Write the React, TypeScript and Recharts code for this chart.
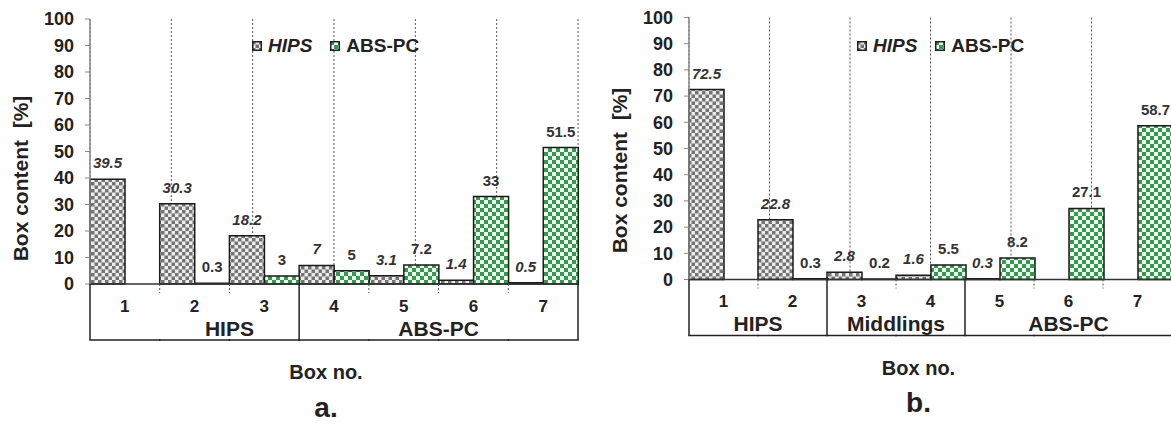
import React from 'react';
import { BarChart, Bar, XAxis, YAxis, CartesianGrid, Legend, LabelList } from 'recharts';

const FONT = "'Liberation Sans', Arial, sans-serif";

// box numbers (categories)
const boxes = ['1', '2', '3', '4', '5', '6', '7'];

// panel a.
const hipsA = [39.5, 30.3, 18.2, 7, 3.1, 1.4, 0.5];
const absA = [0, 0.3, 3, 5, 7.2, 33, 51.5];

// panel b.
const hipsB = [72.5, 22.8, 2.8, 1.6, 0.3, 0, 0];
const absB = [0, 0.3, 0.2, 5.5, 8.2, 27.1, 58.7];

const yTicks = [0, 10, 20, 30, 40, 50, 60, 70, 80, 90, 100];
const gridTicks = [1, 2, 3, 4, 5, 6];
const seriesOrder = ['hips', 'abs'];

// product groups under the axis (first/last box index, label anchor in box units)
const groupsA = [
  { name: 'HIPS', first: 0, last: 2, labelAt: 2 },
  { name: 'ABS-PC', first: 3, last: 6, labelAt: 5 },
];
const groupsB = [
  { name: 'HIPS', first: 0, last: 1, labelAt: 1 },
  { name: 'Middlings', first: 2, last: 3, labelAt: 3 },
  { name: 'ABS-PC', first: 4, last: 6, labelAt: 5.5 },
];

type Group = { name: string; first: number; last: number; labelAt: number };

const BOX_H = 56;

const makeTick = (groups: Group[], band: number, count: number) => (props: any) => {
  const { x, y, payload, index } = props;
  const left = x - band / 2;
  const right = x + band / 2;
  const g = groups.find((gr) => gr.first === index);
  return (
    <g>
      <text x={x} y={y + 22} textAnchor="middle" dominantBaseline="central"
        fontSize={17} fontWeight={700} fill="#222" fontFamily={FONT}>
        {payload.value}
      </text>
      <line x1={left} x2={right} y1={y + BOX_H} y2={y + BOX_H} stroke="#222" strokeWidth={1.5} strokeLinecap="square" />
      {g ? (
        <line x1={left} x2={left} y1={y} y2={y + BOX_H} stroke="#222" strokeWidth={1.5} />
      ) : (
        <line x1={left} x2={left} y1={y} y2={y + 9} stroke="#555" strokeDasharray="2 2" />
      )}
      {index === count - 1 && (
        <line x1={right} x2={right} y1={y} y2={y + BOX_H} stroke="#222" strokeWidth={1.5} />
      )}
      {g && (
        <text x={left + (g.labelAt - g.first) * band} y={y + 44} textAnchor="middle" dominantBaseline="central"
          fontSize={21} fontWeight={700} fill="#222" fontFamily={FONT}>
          {g.name}
        </text>
      )}
    </g>
  );
};

const yTitle = (dy: number) => (props: any) => {
  const vb = props.viewBox || {};
  const x = (vb.x ?? 0) + (vb.width ?? 0) - 70;
  const y = (vb.y ?? 0) + (vb.height ?? 0) / 2 + dy;
  return (
    <text x={x} y={y} transform={`rotate(-90 ${x} ${y})`} textAnchor="middle" dominantBaseline="central"
      fontSize={21} fontWeight={700} fill="#222" fontFamily={FONT}>
      {'Box content\u00a0 [%]'}
    </text>
  );
};

const xTitle = (dx: number, tag: string) => (props: any) => {
  const vb = props.viewBox || {};
  const cx = (vb.x ?? 0) + (vb.width ?? 0) / 2 + dx;
  const bottom = (vb.y ?? 0) + (vb.height ?? 0);
  return (
    <g fontFamily={FONT} fontWeight={700} fill="#222">
      <text x={cx} y={bottom + 32} textAnchor="middle" dominantBaseline="central" fontSize={20}>Box no.</text>
      <text x={cx} y={bottom + 67} textAnchor="middle" dominantBaseline="central" fontSize={28}>{tag}</text>
    </g>
  );
};

const LegendBox = (props: any) => {
  const items = [...(props.payload ?? [])].sort(
    (a: any, b: any) => seriesOrder.indexOf(a.dataKey) - seriesOrder.indexOf(b.dataKey),
  );
  return (
    <div style={{ display: 'flex', alignItems: 'center', fontFamily: FONT, fontWeight: 700, fontSize: 19, color: '#222', lineHeight: '22px', whiteSpace: 'nowrap' }}>
      {items.map((e: any, i: number) => (
        <span key={i} style={{ display: 'flex', alignItems: 'center', marginRight: 18 }}>
          <svg width={10} height={10} style={{ display: 'block' }}>
            <rect x={0.75} y={0.75} width={8.5} height={8.5} fill={e.color} stroke="#222" strokeWidth={1.5} />
          </svg>
          <span style={{ marginLeft: 6, fontStyle: e.dataKey === 'hips' ? 'italic' : 'normal' }}>{e.value}</span>
        </span>
      ))}
    </div>
  );
};

type PanelProps = {
  pid: string;
  hips: number[];
  abs: number[];
  groups: Group[];
  tag: string;
  margin: { top: number; right: number; left: number; bottom: number };
  legendLeft: number;
  titleDx: number;
  yTitleDy: number;
};

const W = 590;
const H = 424;
const Y_W = 60;

const Panel = ({ pid, hips, abs, groups, tag, margin, legendLeft, titleDx, yTitleDy }: PanelProps) => {
  const data = boxes.map((b, i) => ({ box: b, hips: hips[i], abs: abs[i] }));
  const plotW = W - margin.left - margin.right - Y_W;
  const band = plotW / boxes.length;
  const labelStyle = { fontSize: 15, fontWeight: 700, fill: '#333', fontFamily: FONT };
  return (
    <BarChart width={W} height={H} data={data} margin={margin} barCategoryGap={0} barGap={0}>
      <defs>
        <pattern id={`${pid}-hips`} width="7" height="7" patternUnits="userSpaceOnUse">
          <rect width="7" height="7" fill="#ececec" />
          <rect width="3.5" height="3.5" fill="#747474" />
          <rect x="3.5" y="3.5" width="3.5" height="3.5" fill="#747474" />
        </pattern>
        <pattern id={`${pid}-abs`} width="8" height="8" patternUnits="userSpaceOnUse">
          <rect width="8" height="8" fill="#f4fbf5" />
          <rect width="4" height="4" fill="#2e9e48" />
          <rect x="4" y="4" width="4" height="4" fill="#2e9e48" />
        </pattern>
      </defs>
      <CartesianGrid xAxisId="grid" horizontal={false} stroke="#555" strokeDasharray="2 2" />
      <XAxis xAxisId="grid" type="number" domain={[0, 7]} ticks={gridTicks} hide />
      <XAxis xAxisId="top" dataKey="box" orientation="top" height={0} tick={false} tickLine={false}
        axisLine={{ stroke: '#999', strokeWidth: 1.5 }} />
      <XAxis dataKey="box" height={BOX_H} interval={0} tickSize={0} tickMargin={0} tickLine={false}
        axisLine={{ stroke: '#333', strokeWidth: 1.5 }}
        tick={makeTick(groups, band, boxes.length)}
        label={{ content: xTitle(titleDx, tag) }} />
      <YAxis domain={[0, 100]} ticks={yTicks} interval={0} width={Y_W} tickSize={5} tickMargin={11}
        axisLine={{ stroke: '#888', strokeWidth: 1.5 }} tickLine={{ stroke: '#888' }}
        tick={{ fontSize: 18, fontWeight: 700, fill: '#222', fontFamily: FONT }}
        label={{ content: yTitle(yTitleDy) }} />
      <YAxis yAxisId="r" orientation="right" width={0} domain={[0, 100]} tick={false} tickLine={false}
        axisLine={{ stroke: '#999', strokeWidth: 1.5 }} />
      <Legend layout="horizontal" verticalAlign="middle" align="center" content={<LegendBox />}
        wrapperStyle={{ top: 35, left: legendLeft, width: 'auto' }} />
      <Bar dataKey="hips" name="HIPS" fill={`url(#${pid}-hips)`} stroke="#1a1a1a" strokeWidth={1.5} isAnimationActive={false}>
        <LabelList dataKey="hips" position="top" offset={11} style={{ ...labelStyle, fontStyle: 'italic' }} />
      </Bar>
      <Bar dataKey="abs" name="ABS-PC" fill={`url(#${pid}-abs)`} stroke="#1a1a1a" strokeWidth={1.5} isAnimationActive={false}>
        <LabelList dataKey="abs" position="top" offset={11} style={labelStyle} />
      </Bar>
    </BarChart>
  );
};

const App = () => (
  <div style={{ position: 'absolute', left: 0, top: 0, width: 1171, height: 424, overflow: 'hidden', background: '#fff' }}>
    <div style={{ position: 'absolute', left: 0, top: 0 }}>
      <Panel pid="pa" hips={hipsA} abs={absA} groups={groupsA} tag="a."
        margin={{ top: 19, right: 12, left: 30, bottom: 84 }}
        legendLeft={252} titleDx={-8} yTitleDy={27} />
    </div>
    <div style={{ position: 'absolute', left: 590, top: 0 }}>
      <Panel pid="pb" hips={hipsB} abs={absB} groups={groupsB} tag="b."
        margin={{ top: 17.5, right: 8, left: 39, bottom: 88.5 }}
        legendLeft={267} titleDx={-12} yTitleDy={22} />
    </div>
  </div>
);

export default App;
